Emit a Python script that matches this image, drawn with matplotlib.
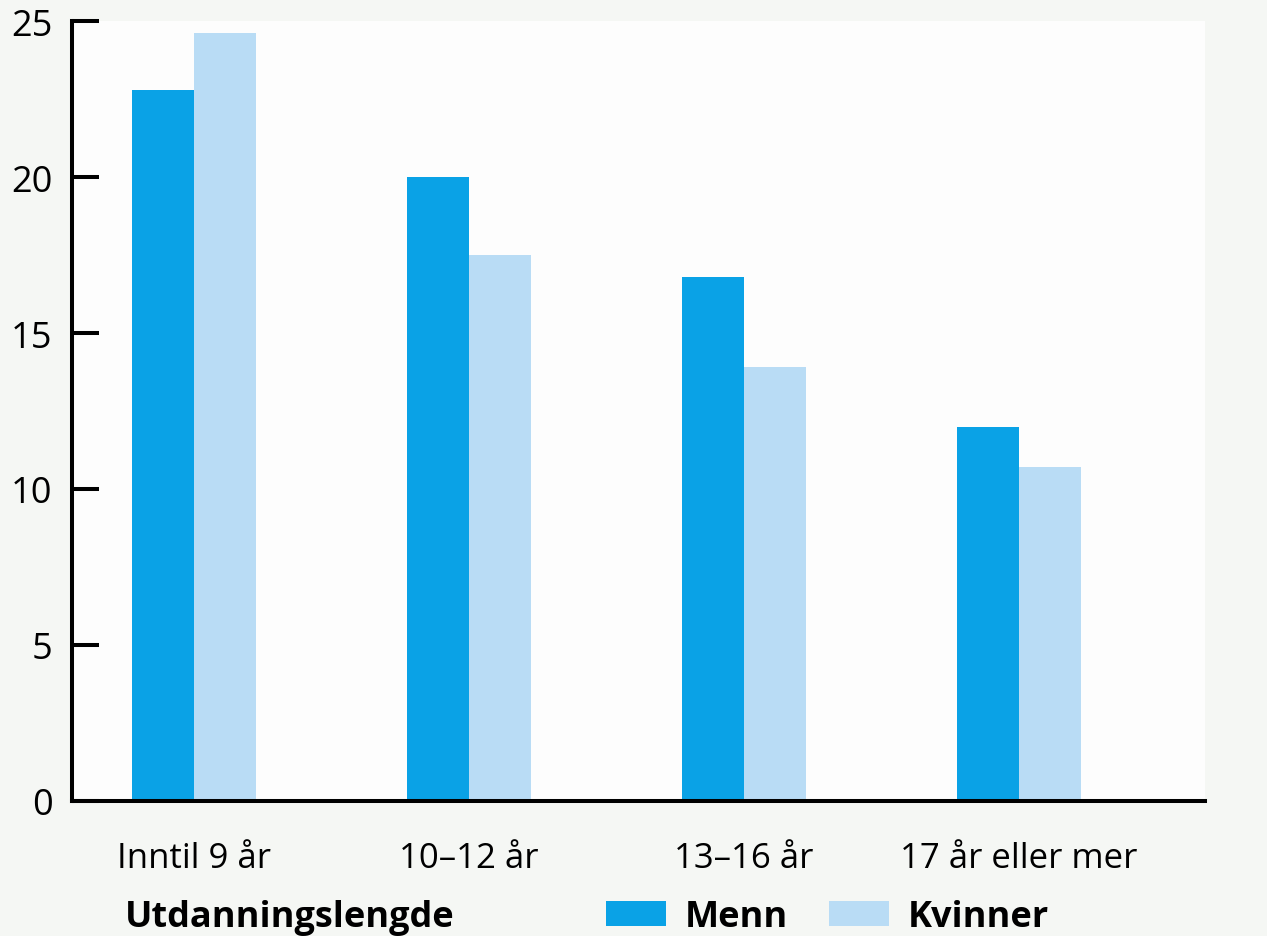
import matplotlib.pyplot as plt
from matplotlib.patches import Patch
import numpy as np

plt.rcParams['font.family'] = ['Open Sans', 'DejaVu Sans']

# education length groups and share per group
categories = ['Inntil 9 år', '10–12 år', '13–16 år', '17 år eller mer']
menn = [22.8, 20.0, 16.8, 12.0]
kvinner = [24.6, 17.5, 13.9, 10.7]
yticks = [0, 5, 10, 15, 20, 25]

col_menn = '#0aa2e6'
col_kvinner = '#b9dcf5'

fig = plt.figure(figsize=(12.67, 9.37), dpi=100, facecolor='#f5f7f4')
ax = fig.add_axes([0.0568, 0.1441, 0.8942, 0.8324])
ax.set_facecolor('#fdfdfd')

x = np.arange(len(categories))
w = 0.225
ax.bar(x - w / 2, menn, width=w, color=col_menn, linewidth=0)
ax.bar(x + w / 2, kvinner, width=w, color=col_kvinner, linewidth=0)

ax.set_xlim(-0.4436, 3.676)
ax.set_ylim(0, 25)
ax.set_yticks(yticks)
ax.set_xticks(x)
ax.set_xticklabels(categories, fontsize=25)
ax.tick_params(axis='x', length=0, pad=29)
ax.tick_params(axis='y', direction='in', length=19.5, width=2.9, labelsize=26, pad=14)

for s in ['top', 'right']:
    ax.spines[s].set_visible(False)
for s in ['left', 'bottom']:
    ax.spines[s].set_linewidth(2.9)
    ax.spines[s].set_color('black')

fig.text(125 / 1267, 1 - 918 / 937, 'Utdanningslengde', fontsize=26,
         fontweight='bold', ha='left', va='center')

handles = [Patch(facecolor=col_menn, edgecolor='none', label='Menn'),
           Patch(facecolor=col_kvinner, edgecolor='none', label='Kvinner')]
fig.legend(handles=handles, loc='center left', bbox_to_anchor=(606 / 1267, 1 - 918 / 937),
           ncol=2, frameon=False, prop={'size': 26, 'weight': 'bold'},
           handlelength=1.67, handleheight=0.7, handletextpad=0.5,
           columnspacing=1.15, borderpad=0, borderaxespad=0)

fig.savefig('out.png', dpi=100, facecolor=fig.get_facecolor())
